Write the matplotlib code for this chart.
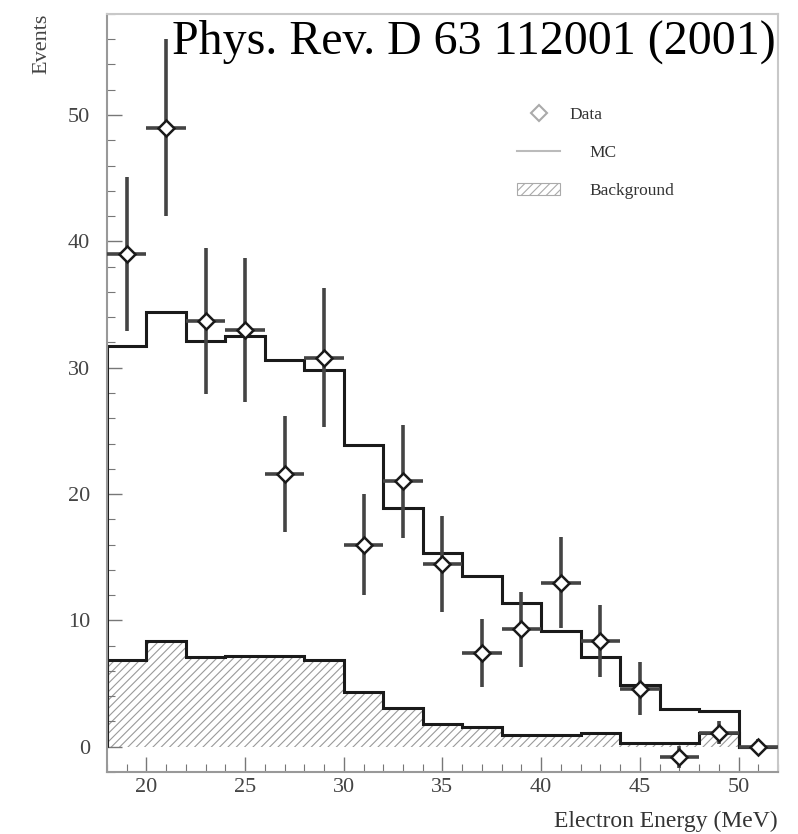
import numpy as np
import matplotlib
matplotlib.use("Agg")
from matplotlib import pyplot as plt
from matplotlib.lines import Line2D
from matplotlib.patches import Patch
from matplotlib.ticker import MultipleLocator

# 2 MeV bins from 18 to 52 MeV
edges = np.arange(18, 53, 2)
centres = edges[:-1] + 1

data = [39.0, 49.0, 33.7, 33.0, 21.6, 30.8, 16.0, 21.0, 14.5, 7.4, 9.3, 13.0, 8.4, 4.6, -0.8, 1.1, 0.0]
data_err = [6.1, 7.0, 5.8, 5.7, 4.6, 5.5, 4.0, 4.5, 3.8, 2.7, 2.95, 3.6, 2.85, 2.1, 0.9, 0.9, 0.65]

mc = [31.7, 34.4, 32.1, 32.5, 30.6, 29.8, 23.9, 18.9, 15.3, 13.5, 11.4, 9.2, 7.1, 4.9, 3.0, 2.8, 0.0]
bkg = [6.9, 8.4, 7.1, 7.2, 7.2, 6.9, 4.3, 3.1, 1.8, 1.6, 0.9, 0.9, 1.05, 0.3, 0.3, 1.05, 0.0]

plt.rcParams['font.family'] = ['Liberation Serif', 'DejaVu Serif']
plt.rcParams['hatch.linewidth'] = 0.8

fig = plt.figure(figsize=(7.98, 8.34), dpi=100)
ax = fig.add_axes([0.134, 0.0743, 0.841, 0.909])

# background, hatched
ax.stairs(bkg, edges, fill=True, hatch='////', facecolor='none',
          edgecolor='#9a9a9a', linewidth=0, zorder=1)
ax.stairs(bkg, edges, color='#1a1a1a', linewidth=2.2, zorder=2)

# MC
ax.stairs(mc, edges, color='#1a1a1a', linewidth=2.2, zorder=2)

# data
ax.errorbar(centres, data, yerr=data_err, xerr=1, fmt='none',
            ecolor='#444444', elinewidth=2.6, capsize=0, zorder=3)
ax.plot(centres, data, ls='none', marker='D', ms=8, mfc='white',
        mec='#1a1a1a', mew=1.8, zorder=4)

ax.set_xlim(18, 52)
ax.set_ylim(-2, 58)
ax.xaxis.set_major_locator(MultipleLocator(5))
ax.xaxis.set_minor_locator(MultipleLocator(1))
ax.yaxis.set_major_locator(MultipleLocator(10))
ax.yaxis.set_minor_locator(MultipleLocator(2))
ax.set_yticks([0, 10, 20, 30, 40, 50])
ax.tick_params(which='both', direction='in', colors='#777777', labelcolor='#444444',
               labelsize=16, top=False, right=False)
ax.tick_params(which='major', length=11, width=1.0)
ax.tick_params(which='minor', length=6, width=0.8)
ax.tick_params(axis='y', which='major', pad=12)
ax.tick_params(axis='x', which='major', pad=4)
for s in ax.spines.values():
    s.set_color('#c8c8c8')
    s.set_linewidth(1.5)
ax.spines['left'].set_color('#999999')
ax.spines['bottom'].set_color('#999999')

ax.set_ylabel('Events', color='#444444', fontsize=16, loc='top', labelpad=12)
ax.set_xlabel('Electron Energy (MeV)', color='#333333', fontsize=17, loc='right', labelpad=10)

# legend: Data row sits a bit apart from the other two
leg_data = ax.legend(
    [Line2D([], [], ls='none', marker='D', ms=8, mfc='white', mec='#aaaaaa', mew=1.5)],
    ['Data'], loc='upper left', bbox_to_anchor=(0.611, 0.877), borderaxespad=0,
    borderpad=0, frameon=False, fontsize=12.5, handlelength=2.5, handletextpad=0.5,
    labelcolor='#333333')
ax.add_artist(leg_data)
ax.legend(
    [Line2D([], [], color='#bbbbbb', lw=1.5),
     Patch(facecolor='white', edgecolor='#aaaaaa', hatch='////', lw=0.8)],
    ['MC', 'Background'], loc='upper left', bbox_to_anchor=(0.611, 0.827),
    borderaxespad=0, borderpad=0, frameon=False, fontsize=12.5, handlelength=2.5,
    handletextpad=1.7, labelspacing=1.25, labelcolor='#333333')

fig.text(0.216, 0.950, 'Phys. Rev. D 63 112001 (2001)', fontsize=34.5,
         color='black', va='center', ha='left')

fig.savefig('out.png', dpi=100)
